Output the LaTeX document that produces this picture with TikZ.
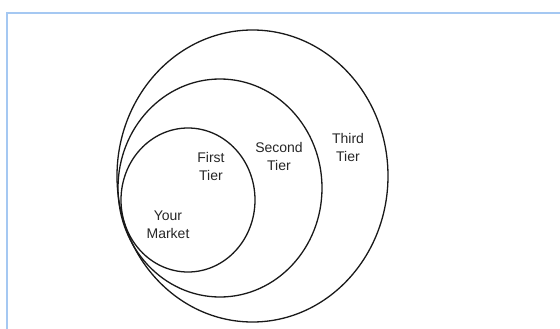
\documentclass[tikz,border=0pt]{standalone}
\usepackage{fontspec}
\setmainfont{Liberation Sans}
\usepackage{xcolor}
\usetikzlibrary{positioning}
\definecolor{frameblue}{RGB}{165,200,242}

\begin{document}
\begin{tikzpicture}[
  x=1pt, y=-1pt,
  tier/.style={draw=black!90, line width=1.3pt},
  frame/.style={draw=frameblue, line width=2pt},
  lab/.style={font=\fontsize{14}{18}\selectfont, align=center, text=black!85}
]
  \useasboundingbox (0,0) rectangle (560,329);
  % Frame: only top and left edges show.
  \draw[frame] (6.5,340) -- (6.5,13) -- (570,13);

  % Nested tiers, all touching near (125,226).
  \draw[tier] (252.5,176) ellipse [x radius=135.5, y radius=146];
  \draw[tier] (220,188) ellipse [x radius=102, y radius=109];
  \draw[tier] (188,200) ellipse [x radius=67, y radius=72];

  \node[lab] (market) at (168,225) {Your\\Market};
  \node[lab] (first) at (211,166) {First\\Tier};
  \node[lab] (second) at (279,156) {Second\\Tier};
  \node[lab] (third) at (348,147) {Third\\Tier};
\end{tikzpicture}
\end{document}
